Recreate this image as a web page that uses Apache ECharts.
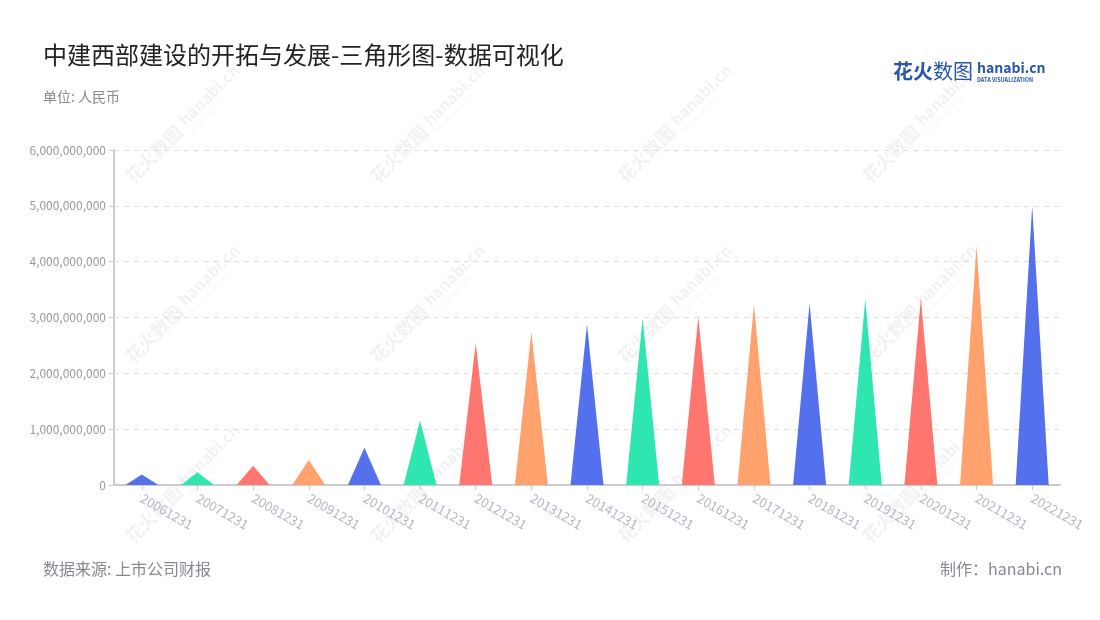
<!DOCTYPE html>
<html>
<head>
<meta charset="utf-8">
<script src="https://cdn.jsdelivr.net/npm/echarts@6/dist/echarts.min.js"></script>
<style>html,body{margin:0;padding:0;background:#fff}#c{width:1100px;height:620px}</style>
</head>
<body>
<div id="c"></div>
<script>
var categories = ['20061231','20071231','20081231','20091231','20101231','20111231','20121231','20131231','20141231','20151231','20161231','20171231','20181231','20191231','20201231','20211231','20221231'];
var values = [190000000, 227000000, 345000000, 448000000, 668000000, 1152000000, 2540000000, 2740000000, 2880000000, 2985000000, 3015000000, 3236000000, 3254000000, 3326000000, 3344000000, 4286000000, 5000000000];
var palette = ['#5570ec', '#2ee6b0', '#ff7670', '#ffa26e'];
var yTicks = [0, 1000000000, 2000000000, 3000000000, 4000000000, 5000000000, 6000000000];

var chart = echarts.init(document.getElementById('c'), null, {renderer: 'canvas'});

var fontFam = '"Noto Sans CJK SC","Noto Sans",sans-serif';
var wm = [];
var wmX = [158, 403, 650, 895];
var wmY = [150, 330, 510];
var wc = 'rgba(0,0,0,0.055)';
wmY.forEach(function (y) {
  wmX.forEach(function (x) {
    wm.push({
      type: 'group', x: x, y: y, rotation: Math.PI / 4, silent: true, z: 100,
      children: [
        {type: 'text', style: {text: '花火数图', x: -42, y: 0, fill: wc, font: 'bold 18px ' + fontFam, textVerticalAlign: 'middle'}},
        {type: 'text', style: {text: 'hanabi.cn', x: 36, y: -3, fill: wc, font: 'bold 16px ' + fontFam, textVerticalAlign: 'middle'}},
        {type: 'text', style: {text: 'DATA VISUALIZATION', x: 36, y: 10, fill: wc, font: '5px ' + fontFam, textVerticalAlign: 'middle'}}
      ]
    });
  });
});

var logo = [
  {type: 'text', left: 893, top: 61, style: {text: '花火', fill: '#2a56a8', font: 'bold 20px ' + fontFam}},
  {type: 'text', left: 933, top: 61, style: {text: '数图', fill: '#2a56a8', font: '20px ' + fontFam}},
  {type: 'text', left: 977, top: 61, style: {text: 'hanabi.cn', fill: '#2a56a8', font: 'bold 14px ' + fontFam}},
  {type: 'text', left: 977, top: 77, style: {text: 'DATA VISUALIZATION', fill: '#2a56a8', font: 'bold 5.5px ' + fontFam}}
];

chart.setOption({
  backgroundColor: '#fff',
  textStyle: {fontFamily: fontFam},
  title: [
    {text: '中建西部建设的开拓与发展-三角形图-数据可视化', left: 38, top: 38, textStyle: {fontSize: 24, fontWeight: 'normal', color: '#222', fontFamily: fontFam}},
    {text: '单位: 人民币', left: 38, top: 85, textStyle: {fontSize: 14, fontWeight: 'normal', color: '#888', fontFamily: fontFam}},
    {text: '数据来源: 上市公司财报', left: 38, top: 556, textStyle: {fontSize: 16, fontWeight: 'normal', color: '#888894', fontFamily: fontFam}},
    {text: '制作：hanabi.cn', right: 33, top: 556, textStyle: {fontSize: 16, fontWeight: 'normal', color: '#888894', fontFamily: fontFam}}
  ],
  graphic: logo.concat(wm),
  grid: {left: 114, right: 40, top: 150, bottom: 135},
  xAxis: {
    type: 'category',
    data: categories,
    axisLine: {lineStyle: {color: '#ccc', width: 2}},
    axisTick: {show: true, alignWithLabel: true, lineStyle: {color: '#ccc'}},
    axisLabel: {rotate: -30, color: '#b4b6c4', fontSize: 13, margin: 12, interval: 0}
  },
  yAxis: {
    type: 'value',
    min: 0, max: 6000000000, interval: 1000000000,
    axisLine: {show: true, lineStyle: {color: '#ccc', width: 2}},
    axisTick: {show: true, lineStyle: {color: '#ccc'}},
    axisLabel: {color: '#999', fontSize: 12, formatter: function (v) { return v.toLocaleString('en-US'); }},
    splitLine: {lineStyle: {color: '#ddd', type: [5, 5]}}
  },
  series: [{
    type: 'pictorialBar',
    symbol: 'path://M0,10 L5,0 L10,10 Z',
    symbolSize: [33, '100%'],
    data: values.map(function (v, i) {
      return {value: v, itemStyle: {color: palette[i % palette.length]}};
    })
  }]
});
</script>
</body>
</html>
